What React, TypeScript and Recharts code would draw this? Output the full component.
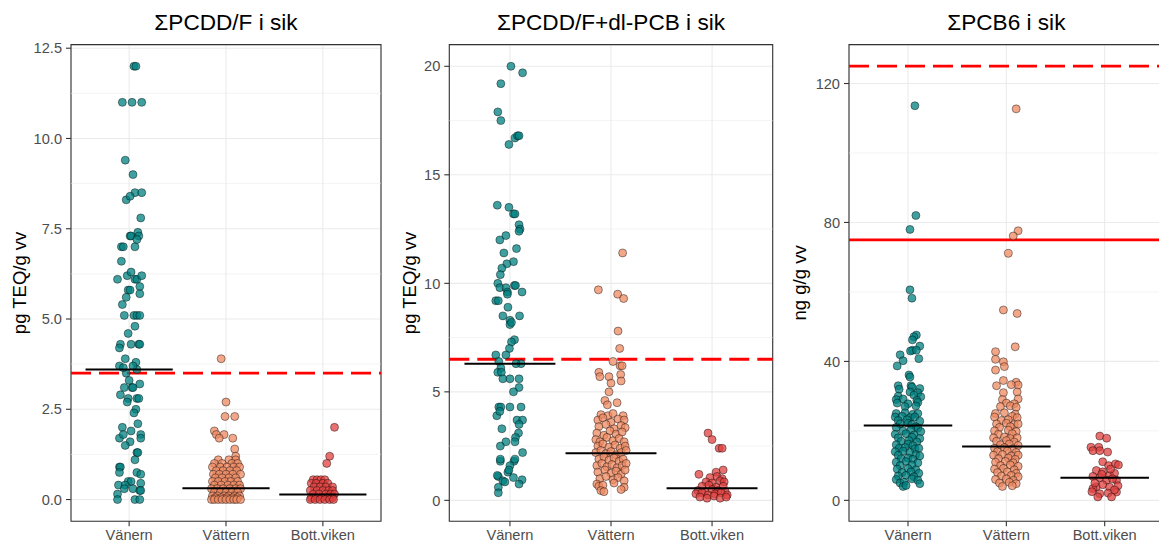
import React from 'react';
import { ScatterChart, Scatter, XAxis, YAxis, CartesianGrid, ReferenceLine, ReferenceArea } from 'recharts';

type Pt = [number, number]; // [jitter offset from category centre, value]

const categories = ['Vänern', 'Vättern', 'Bott.viken'];
const colors = ['#008080', '#EF8A62', '#E0403F'];

// ---------- Panel 1: ΣPCDD/F i sik ----------
const p1Title = 'ΣPCDD/F i sik';
const p1YLabel = 'pg TEQ/g vv';
const p1Ticks = [0, 2.5, 5, 7.5, 10, 12.5];
const p1Minor = [1.25, 3.75, 6.25, 8.75, 11.25];
const p1Domain: [number, number] = [-0.6, 12.6];
const p1Means = [3.6, 0.31, 0.14];
const p1Limit = 3.5;
const p1Vanern: Pt[] = [
  [0.05, 12.0], [0.07, 12.0], [-0.07, 11.0], [0.03, 11.0], [0.13, 11.0], [-0.04, 9.4], [0.04, 9.0],
  [0.06, 8.5], [0.13, 8.5], [-0.03, 8.3], [0.01, 8.4], [0.12, 7.8], [0.01, 7.3], [0.02, 7.3],
  [0.09, 7.4], [0.1, 7.3], [0.08, 7.2], [-0.08, 7.0], [-0.06, 7.0], [0.06, 7.0], [-0.08, 6.6],
  [-0.12, 6.1], [-0.02, 6.2], [0.02, 6.3], [0.06, 6.1], [0.08, 6.1], [0.13, 6.2], [-0.01, 5.8],
  [0.01, 5.8], [0.11, 5.9], [0.11, 5.7], [-0.03, 5.6], [-0.07, 5.4], [-0.05, 5.1], [0.05, 5.1],
  [0.08, 5.1], [0.11, 5.1], [0.06, 4.8], [-0.01, 4.6], [-0.09, 4.3], [-0.1, 4.2], [0.02, 4.3],
  [0.1, 4.3], [0.11, 4.3], [-0.04, 3.9], [-0.1, 3.7], [0.07, 3.8], [0.08, 3.6], [-0.03, 3.5],
  [0.0, 3.3], [0.11, 3.2], [-0.05, 3.1], [0.03, 3.1], [0.04, 3.1], [-0.09, 2.9], [-0.01, 2.8],
  [0.08, 2.8], [0.1, 2.8], [-0.02, 2.7], [0.07, 2.5], [0.05, 2.4], [0.09, 2.1], [-0.07, 2.0],
  [0.02, 1.9], [-0.1, 1.7], [-0.06, 1.8], [0.12, 1.8], [0.12, 1.7], [0.01, 1.6], [-0.04, 1.5],
  [0.08, 1.3], [0.09, 1.3], [0.06, 1.1], [-0.1, 0.9], [-0.09, 0.9], [-0.1, 0.75], [0.08, 0.75],
  [0.12, 0.7], [-0.11, 0.4], [-0.01, 0.5], [0.02, 0.5], [-0.04, 0.4], [0.12, 0.45], [-0.05, 0.3],
  [0.04, 0.3], [0.11, 0.25], [0.12, 0.25], [-0.12, 0.15], [-0.12, 0.0], [0.06, 0.0], [0.11, 0.0],
  [-0.06, 3.65], [0.04, 3.7],
];
const p1Vattern: Pt[] = [
  [-0.05, 3.9], [0.0, 2.7], [-0.01, 2.3], [0.09, 2.3], [-0.12, 1.9], [-0.1, 1.8], [-0.02, 1.8],
  [-0.07, 1.7], [0.07, 1.7], [0.09, 1.4], [0.1, 1.2],
  [-0.08, 1.1], [0.03, 1.1], [0.1, 1.1],
  [-0.12, 1.0], [-0.04, 1.0], [0.06, 1.0], [0.12, 1.0],
  [-0.14, 0.9], [-0.06, 0.9], [0.01, 0.9], [0.08, 0.9], [0.14, 0.9],
  [-0.1, 0.8], [-0.03, 0.8], [0.04, 0.8], [0.11, 0.8],
  [-0.13, 0.7], [-0.07, 0.7], [0.0, 0.7], [0.07, 0.7], [0.15, 0.7],
  [-0.11, 0.6], [-0.04, 0.6], [0.03, 0.6], [0.1, 0.6],
  [-0.14, 0.5], [-0.08, 0.5], [-0.01, 0.5], [0.05, 0.5], [0.12, 0.5],
  [-0.12, 0.4], [-0.05, 0.4], [0.02, 0.4], [0.08, 0.4], [0.14, 0.4],
  [-0.15, 0.3], [-0.09, 0.3], [-0.03, 0.3], [0.04, 0.3], [0.1, 0.3], [0.15, 0.3],
  [-0.12, 0.2], [-0.06, 0.2], [0.0, 0.2], [0.06, 0.2], [0.12, 0.2],
  [-0.14, 0.1], [-0.09, 0.1], [-0.02, 0.1], [0.03, 0.1], [0.09, 0.1], [0.14, 0.1],
  [-0.11, 0.05], [-0.05, 0.05], [0.01, 0.05], [0.07, 0.05], [0.12, 0.05],
  [-0.15, 0.0], [-0.12, 0.0], [-0.08, 0.0], [-0.04, 0.0], [0.0, 0.0], [0.04, 0.0], [0.08, 0.0],
  [0.11, 0.0], [0.15, 0.0],
];
const p1Bott: Pt[] = [
  [0.12, 2.0], [0.07, 1.2], [0.04, 1.0],
  [-0.1, 0.55], [-0.06, 0.55], [-0.02, 0.55], [0.02, 0.55],
  [-0.12, 0.45], [-0.07, 0.45], [0.0, 0.45], [0.05, 0.45],
  [-0.09, 0.35], [-0.03, 0.35], [0.03, 0.35], [0.1, 0.35],
  [-0.13, 0.25], [-0.06, 0.25], [0.0, 0.25], [0.06, 0.25], [0.1, 0.25],
  [-0.1, 0.15], [-0.04, 0.15], [0.03, 0.15], [0.08, 0.15], [0.12, 0.15],
  [-0.12, 0.05], [-0.07, 0.05], [-0.01, 0.05], [0.05, 0.05], [0.1, 0.05],
  [-0.13, 0.0], [-0.08, 0.0], [-0.03, 0.0], [0.02, 0.0], [0.07, 0.0], [0.11, 0.0],
];

// ---------- Panel 2: ΣPCDD/F+dl-PCB i sik ----------
const p2Title = 'ΣPCDD/F+dl-PCB i sik';
const p2YLabel = 'pg TEQ/g vv';
const p2Ticks = [0, 5, 10, 15, 20];
const p2Minor = [2.5, 7.5, 12.5, 17.5];
const p2Domain: [number, number] = [-0.96, 21.0];
const p2Means = [6.29, 2.17, 0.56];
const p2Limit = 6.5;
const p2Vanern: Pt[] = [
  [0.01, 20.0], [0.125, 19.7], [-0.09, 19.2], [-0.12, 17.9], [-0.09, 17.5], [0.05, 16.7], [0.075, 16.8],
  [0.09, 16.8], [-0.01, 16.4], [-0.125, 13.6], [-0.01, 13.5], [0.035, 13.2], [0.05, 13.2], [0.09, 12.7],
  [0.1, 12.5], [0.09, 12.4], [-0.1, 12.0], [-0.04, 12.2], [0.065, 11.6], [-0.06, 11.4], [0.035, 11.0],
  [-0.03, 10.9], [-0.08, 10.7], [-0.095, 10.4], [-0.12, 10.0], [-0.1, 9.8], [-0.04, 9.8], [-0.025, 9.6],
  [0.045, 9.9], [0.055, 9.9], [0.12, 9.6], [-0.14, 9.2], [-0.115, 9.2], [-0.025, 9.5], [-0.02, 8.9],
  [-0.07, 8.5], [0.095, 8.5], [0.0, 8.3], [0.0, 8.1], [0.015, 8.2], [0.045, 7.4], [0.015, 7.3],
  [-0.005, 7.0], [-0.14, 6.7], [-0.04, 6.7], [-0.11, 6.4], [-0.09, 6.1], [0.11, 6.3], [0.06, 6.3],
  [-0.12, 5.9], [-0.085, 5.9], [-0.07, 5.6], [0.0, 5.6], [0.09, 5.6], [0.09, 5.2], [0.035, 5.0],
  [-0.11, 4.3], [-0.09, 4.3], [0.0, 4.3], [0.11, 4.3], [-0.13, 3.9], [-0.1, 4.1], [0.07, 3.7],
  [0.125, 3.7], [0.09, 3.5], [-0.08, 3.3], [0.085, 3.1], [0.055, 2.9], [0.05, 2.7], [-0.04, 2.7],
  [-0.095, 2.5], [0.125, 2.2], [-0.095, 1.8], [-0.095, 1.9], [0.04, 1.8], [0.05, 1.9], [0.0, 1.6],
  [-0.02, 1.3], [-0.01, 1.4], [-0.115, 1.1], [-0.125, 1.15], [-0.07, 0.9], [-0.05, 0.85], [0.035, 1.05],
  [0.12, 0.95], [0.09, 0.75], [-0.115, 0.6], [-0.115, 0.35],
];
const p2Vattern: Pt[] = [
  [0.115, 11.4], [-0.125, 9.7], [0.066, 9.5], [0.125, 9.3], [0.07, 7.8], [0.086, 7.0], [0.02, 6.4],
  [0.09, 6.2], [0.11, 6.2], [-0.12, 5.9], [-0.11, 5.7], [-0.02, 5.7], [0.096, 5.8], [0.1, 5.5],
  [0.0, 5.4], [-0.02, 5.0], [-0.06, 4.6], [-0.036, 4.4], [0.06, 4.5],
  [-0.1, 3.95], [-0.03, 3.9], [0.02, 4.0], [0.12, 3.9],
  [-0.13, 3.7], [-0.08, 3.8], [0.0, 3.6], [0.07, 3.75], [0.13, 3.7],
  [-0.12, 3.4], [-0.05, 3.5], [0.03, 3.3], [0.1, 3.45], [0.14, 3.35],
  [-0.14, 3.1], [-0.07, 3.0], [-0.01, 3.2], [0.05, 3.05], [0.11, 3.15],
  [-0.15, 2.8], [-0.11, 2.7], [-0.04, 2.9], [0.02, 2.75], [0.08, 2.85], [0.13, 2.7],
  [-0.13, 2.5], [-0.08, 2.6], [-0.02, 2.45], [0.04, 2.55], [0.09, 2.4], [0.14, 2.5],
  [-0.15, 2.2], [-0.1, 2.3], [-0.05, 2.15], [0.0, 2.25], [0.05, 2.1], [0.1, 2.2], [0.15, 2.3],
  [-0.12, 1.9], [-0.07, 2.0], [-0.02, 1.85], [0.03, 1.95], [0.08, 1.8], [0.12, 1.9],
  [-0.14, 1.6], [-0.09, 1.7], [-0.04, 1.55], [0.01, 1.65], [0.06, 1.5], [0.11, 1.6], [0.15, 1.7],
  [-0.13, 1.3], [-0.06, 1.4], [0.0, 1.25], [0.05, 1.35], [0.1, 1.2], [0.14, 1.4],
  [-0.11, 1.0], [-0.05, 1.1], [0.02, 0.95], [0.07, 1.05], [0.13, 0.9],
  [-0.14, 0.75], [-0.12, 0.65], [-0.08, 0.7], [0.03, 0.8], [0.13, 0.6],
  [-0.1, 0.45], [-0.07, 0.4], [0.1, 0.5],
];
const p2Bott: Pt[] = [
  [-0.04, 3.1], [0.0, 2.8], [0.07, 2.4], [0.1, 2.4], [-0.13, 1.2], [0.11, 1.4], [0.04, 1.3],
  [-0.02, 1.05], [0.05, 1.1], [0.1, 1.0],
  [-0.06, 0.85], [0.0, 0.8], [0.08, 0.9], [0.12, 0.85],
  [-0.1, 0.65], [-0.03, 0.7], [0.04, 0.6], [0.11, 0.65],
  [-0.14, 0.45], [-0.07, 0.4], [0.0, 0.5], [0.06, 0.45], [0.13, 0.4],
  [-0.16, 0.3], [-0.1, 0.35], [-0.04, 0.25], [0.03, 0.3], [0.09, 0.35], [0.15, 0.25],
  [-0.12, 0.15], [-0.05, 0.1], [0.02, 0.2], [0.08, 0.1], [0.14, 0.15],
];

// ---------- Panel 3: ΣPCB6 i sik ----------
const p3Title = 'ΣPCB6 i sik';
const p3YLabel = 'ng g/g vv';
const p3Ticks = [0, 40, 80, 120];
const p3Minor = [20, 60, 100];
const p3Domain: [number, number] = [-6.0, 131.2];
const p3Means = [21.55, 15.5, 6.5];
const p3Limit = 75;
const p3LimitDashed = 125;
const p3Vanern: Pt[] = [
  [0.07, 113.6], [0.08, 82], [0.02, 78], [0.02, 60.6], [0.04, 58.2], [0.085, 47.6], [0.06, 47.1],
  [0.045, 46.2], [0.12, 44.4], [0.045, 43.2], [0.025, 43.0], [0.085, 43.2], [0.11, 40.8], [-0.08, 41.9],
  [-0.05, 40.2], [-0.11, 38.7], [0.01, 36.1], [0.02, 35.5],
  [-0.1, 33], [0.03, 33], [0.04, 32.6], [-0.09, 32], [0.12, 32.2], [0.1, 31], [0.02, 31.2],
  [-0.1, 30], [0.06, 30.3], [0.13, 29.8], [-0.12, 29], [-0.05, 29.2], [0.09, 28.8],
  [-0.11, 28], [0.0, 27.8], [0.1, 28.2], [-0.03, 27], [0.08, 27.2],
  [-0.12, 25], [-0.03, 25.2], [0.05, 24.8], [0.1, 25], [-0.13, 24], [-0.06, 24.2], [0.02, 23.8], [0.07, 24],
  [-0.1, 23], [-0.01, 23.2], [0.12, 22.8], [-0.08, 22], [0.0, 22.2], [0.04, 21.8],
  [-0.12, 21], [0.08, 21.2], [0.1, 20.8], [-0.05, 20], [0.03, 20.2], [0.13, 19.8],
  [-0.13, 19], [-0.02, 19.2], [0.06, 18.8], [-0.1, 18], [0.04, 18.2], [0.12, 17.8],
  [-0.07, 17], [0.01, 17.2], [0.09, 16.8], [-0.12, 16], [0.0, 16.2], [0.05, 15.8],
  [-0.09, 15], [-0.03, 15.2], [0.07, 14.8], [0.11, 15], [-0.13, 14], [-0.05, 14.2], [0.02, 13.8],
  [-0.1, 13], [0.08, 13.2], [0.12, 12.8], [-0.07, 12], [0.0, 12.2], [0.05, 11.8],
  [-0.12, 11], [-0.02, 11.2], [0.1, 10.8], [-0.08, 10], [0.04, 10.2],
  [-0.11, 9], [0.0, 9.2], [0.08, 8.8], [-0.06, 8], [0.03, 8.2], [0.11, 7.8],
  [-0.1, 7], [-0.02, 7.2], [0.06, 6.8], [-0.12, 6], [0.04, 6.2], [0.1, 5.8],
  [-0.08, 5], [-0.04, 5.2], [0.12, 4.8], [-0.05, 4], [-0.02, 4.3],
];
const p3Vattern: Pt[] = [
  [0.1, 112.7], [0.12, 77.6], [0.07, 76.1], [0.02, 71.1], [-0.03, 54.8], [0.11, 53.8], [0.09, 44.2],
  [-0.11, 42.8], [-0.11, 40.6], [-0.03, 39.9], [-0.02, 38.5], [-0.11, 37.5],
  [-0.03, 34.5], [0.1, 34], [0.12, 33.2], [-0.1, 33], [0.05, 33.3], [-0.03, 31], [0.11, 31.2],
  [-0.04, 29], [0.12, 29.2], [0.0, 28], [0.08, 27.8], [-0.06, 27], [0.04, 27.2], [0.1, 26.8],
  [-0.11, 25], [-0.02, 25.2], [0.09, 24.8], [-0.12, 24], [0.06, 24.2], [0.11, 23.8],
  [-0.05, 23], [0.02, 23.2], [-0.1, 22], [0.0, 22.2], [0.08, 21.8], [0.12, 22],
  [-0.07, 21], [0.04, 21.2], [-0.12, 20], [0.02, 20.2], [0.1, 19.8], [-0.08, 19], [0.06, 19.2],
  [-0.13, 18], [-0.02, 18.2], [0.04, 17.8], [0.11, 18], [-0.1, 17], [0.0, 17.2], [0.08, 16.8],
  [-0.06, 16], [0.03, 16.2], [0.12, 15.8], [-0.12, 15], [-0.02, 15.2], [0.06, 14.8],
  [-0.09, 14], [0.01, 14.2], [0.1, 13.8], [-0.13, 13], [-0.04, 13.2], [0.05, 12.8], [0.12, 13],
  [-0.08, 12], [0.02, 12.2], [0.09, 11.8], [-0.11, 11], [-0.01, 11.2], [0.07, 10.8],
  [-0.06, 10], [0.04, 10.2], [0.12, 9.8], [-0.12, 9], [-0.03, 9.2], [0.08, 8.8],
  [-0.09, 8], [0.01, 8.2], [0.1, 7.8], [-0.05, 7], [0.05, 7.2], [0.12, 6.8],
  [-0.11, 6], [0.0, 6.2], [0.07, 5.8], [-0.07, 5], [0.03, 5.2], [0.1, 4.8], [-0.04, 4], [0.06, 4.2],
];
const p3Bott: Pt[] = [
  [-0.05, 18.5], [0.02, 17.9], [-0.14, 15.3], [-0.06, 15.3], [-0.12, 14.3], [-0.05, 14.3], [0.03, 13.9],
  [-0.02, 11.1], [0.04, 10.0], [0.11, 10.5], [0.14, 10.2], [-0.085, 8.6], [-0.02, 8.2], [0.05, 7.2],
  [0.1, 7.8], [-0.12, 6.9], [-0.05, 6.5], [0.02, 5.8], [0.12, 5.8], [-0.085, 3.9], [-0.02, 4.5],
  [0.05, 3.8], [0.135, 4.2], [-0.05, 1.9], [0.035, 2.1], [0.12, 2.4], [-0.12, 3.4], [0.07, 1.0],
  [-0.07, 1.0], [-0.1, 5.0], [0.08, 6.2], [-0.03, 7.5], [0.06, 9.0], [-0.13, 2.5], [0.1, 3.0],
];

const FONT = '"Liberation Sans", Arial, Helvetica, sans-serif';
const MEAN_HALF = 0.45;

type RefLine = { y: number; dashed: boolean };

type PanelProps = {
  left: number;
  yAxisWidth: number;
  rightMargin: number;
  title: string;
  yLabel: string;
  ticks: number[];
  minor: number[];
  domain: [number, number];
  groups: Pt[][];
  means: number[];
  refs: RefLine[];
  fmt: (v: number) => string;
};

const makeShape = (color: string) => (props: any) => {
  if (props.cx == null || props.cy == null) return <g />;
  return (
    <circle
      cx={props.cx}
      cy={props.cy}
      r={4}
      fill={color}
      fillOpacity={0.75}
      stroke="#000"
      strokeOpacity={0.7}
      strokeWidth={0.6}
    />
  );
};

const emptyShape = () => <g />;

const W = 390;
const H = 546;
const TOP = 44.6;
const XAXIS_H = 24.8;

function Panel(p: PanelProps) {
  const plotLeft = p.yAxisWidth;
  const plotRight = W - p.rightMargin;
  const titleCenter = p.left + (plotLeft + plotRight) / 2;
  return (
    <>
      <div
        style={{
          position: 'absolute',
          left: titleCenter - 200,
          top: 11.5,
          width: 400,
          textAlign: 'center',
          fontFamily: FONT,
          fontSize: 22.6,
          lineHeight: '22px',
          color: '#000',
          whiteSpace: 'nowrap',
        }}
      >
        {p.title}
      </div>
      <div style={{ position: 'absolute', left: p.left, top: 0, width: W, height: H }}>
        <ScatterChart width={W} height={H} margin={{ top: TOP, right: p.rightMargin, bottom: 0, left: 0 }}>
          <CartesianGrid stroke="#EBEBEB" strokeWidth={1.1} />
          {p.minor.map((v) => (
            <ReferenceLine key={'m' + v} y={v} stroke="#EBEBEB" strokeWidth={0.6} />
          ))}
          <XAxis
            type="number"
            dataKey="x"
            domain={[0.4, 3.6]}
            ticks={[1, 2, 3]}
            allowDataOverflow
            tickFormatter={(v: number) => categories[Math.round(v) - 1] ?? ''}
            height={XAXIS_H}
            axisLine={false}
            tickLine={{ stroke: '#333333', strokeWidth: 1.1 }}
            tickSize={5}
            tickMargin={3}
            tick={{ fill: '#4D4D4D', fontSize: 14.6, fontFamily: FONT }}
            interval={0}
          />
          <YAxis
            type="number"
            dataKey="y"
            domain={p.domain}
            ticks={p.ticks}
            allowDataOverflow
            width={p.yAxisWidth}
            tickFormatter={p.fmt}
            axisLine={false}
            tickLine={{ stroke: '#333333', strokeWidth: 1.1 }}
            tickSize={5}
            tickMargin={4}
            tick={{ fill: '#4D4D4D', fontSize: 14.6, fontFamily: FONT }}
            interval={0}
            label={{
              content: (lp: any) => {
                const vb = lp.viewBox || { x: 0, y: TOP, width: p.yAxisWidth, height: 476 };
                const cx = vb.x + 20;
                const cy = vb.y + vb.height / 2;
                return (
                  <text
                    x={cx}
                    y={cy}
                    transform={`rotate(-90, ${cx}, ${cy})`}
                    textAnchor="middle"
                    dominantBaseline="central"
                    fontFamily={FONT}
                    fontSize={18.5}
                    fill="#000"
                  >
                    {p.yLabel}
                  </text>
                );
              },
            }}
          />
          {p.refs.map((r) => (
            <ReferenceLine
              key={'r' + r.y}
              y={r.y}
              stroke="#FF0000"
              strokeWidth={2.9}
              strokeDasharray={r.dashed ? '20 8' : undefined}
            />
          ))}
          {p.groups.map((g, i) => (
            <Scatter
              key={'g' + i}
              data={g.map(([dx, v]) => ({ x: i + 1 + dx, y: v }))}
              shape={makeShape(colors[i])}
              isAnimationActive={false}
            />
          ))}
          {p.means.map((m, i) => (
            <Scatter
              key={'mean' + i}
              data={[
                { x: i + 1 - MEAN_HALF, y: m },
                { x: i + 1 + MEAN_HALF, y: m },
              ]}
              line={{ stroke: '#000', strokeWidth: 2 }}
              lineType="joint"
              shape={emptyShape}
              isAnimationActive={false}
            />
          ))}
          <ReferenceArea
            x1={0.4}
            x2={3.6}
            y1={p.domain[0]}
            y2={p.domain[1]}
            fill="none"
            fillOpacity={0}
            stroke="#333333"
            strokeWidth={1.1}
          />
        </ScatterChart>
      </div>
    </>
  );
}

export default function App() {
  return (
    <div
      style={{
        position: 'fixed',
        left: 0,
        top: 0,
        width: 1159,
        height: 546,
        overflow: 'hidden',
        background: '#FFFFFF',
      }}
    >
      <Panel
        left={0}
        yAxisWidth={71}
        rightMargin={9}
        title={p1Title}
        yLabel={p1YLabel}
        ticks={p1Ticks}
        minor={p1Minor}
        domain={p1Domain}
        groups={[p1Vanern, p1Vattern, p1Bott]}
        means={p1Means}
        refs={[{ y: p1Limit, dashed: true }]}
        fmt={(v) => v.toFixed(1)}
      />
      <Panel
        left={390}
        yAxisWidth={59.3}
        rightMargin={7.3}
        title={p2Title}
        yLabel={p2YLabel}
        ticks={p2Ticks}
        minor={p2Minor}
        domain={p2Domain}
        groups={[p2Vanern, p2Vattern, p2Bott]}
        means={p2Means}
        refs={[{ y: p2Limit, dashed: true }]}
        fmt={(v) => String(v)}
      />
      <Panel
        left={780}
        yAxisWidth={69}
        rightMargin={6.3}
        title={p3Title}
        yLabel={p3YLabel}
        ticks={p3Ticks}
        minor={p3Minor}
        domain={p3Domain}
        groups={[p3Vanern, p3Vattern, p3Bott]}
        means={p3Means}
        refs={[
          { y: p3LimitDashed, dashed: true },
          { y: p3Limit, dashed: false },
        ]}
        fmt={(v) => String(v)}
      />
    </div>
  );
}
